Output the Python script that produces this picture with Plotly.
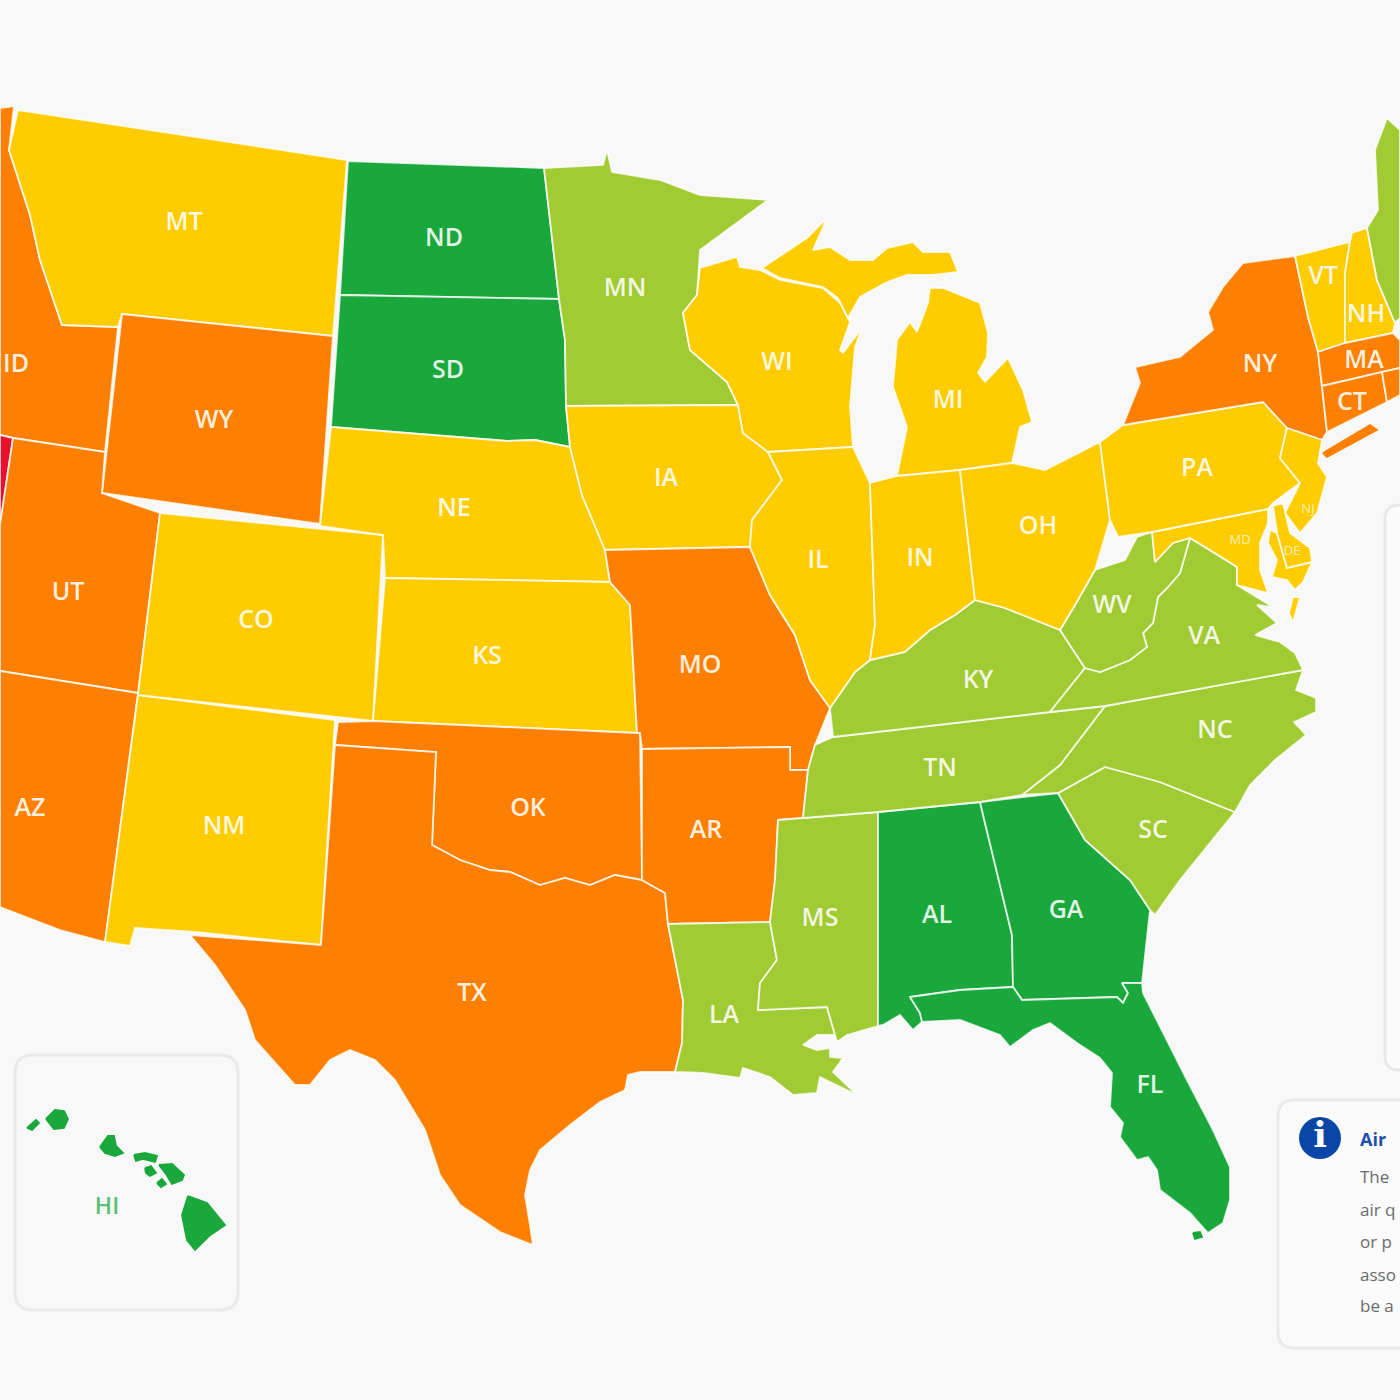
import plotly.graph_objects as go

# grade colours, best to worst
colors = ['#1aa83c', '#a0cb32', '#ffcc00', '#ff8000', '#e8112d']
bg = '#f8f8f8'

# outlines
ID = [(0,108),(14,106),(9,150),(30,215),(40,260),(62,325),(118,327),(105,452),(13,438),(0,435)]
NV = [(0,435),(13,438),(0,525)]
MT = [(18,110),(347,160),(333,336),(122,314),(118,327),(62,325),(40,260),(30,215),(9,150)]
WY = [(122,314),(333,336),(320,524),(102,493)]
UT = [(13,438),(105,452),(102,493),(160,513),(138,693),(0,671),(0,525)]
AZ = [(0,671),(138,693),(105,942),(60,930),(0,907)]
NM = [(138,695),(335,720),(321,945),(195,932),(135,928),(130,946),(105,942)]
CO = [(160,513),(383,535),(373,721),(138,695)]
ND = [(348,161),(544,168),(559,299),(340,295)]
SD = [(340,295),(559,299),(565,340),(566,406),(570,447),(535,440),(507,441),(331,427)]
NE = [(331,427),(507,441),(535,440),(570,447),(582,495),(605,550),(610,582),(385,578),(383,535),(320,526)]
KS = [(385,578),(610,582),(630,605),(637,733),(373,721)]
OK = [(338,722),(373,721),(637,733),(640,733),(642,880),(615,875),(590,885),(565,878),(540,885),(510,872),(490,870),(460,860),(432,845),(436,752),(335,745)]
TX = [(335,745),(436,752),(432,845),(460,860),(490,870),(510,872),(540,885),(565,878),(590,885),(615,875),(642,880),(665,893),(668,924),(683,1000),(682,1043),(675,1072),(640,1072),(628,1075),(625,1090),(600,1102),(570,1125),(540,1150),(530,1170),(525,1195),(530,1225),(533,1245),(500,1232),(460,1205),(440,1175),(425,1130),(410,1105),(395,1080),(375,1060),(350,1050),(330,1060),(310,1085),(295,1085),(275,1062),(255,1040),(245,1010),(215,965),(190,935),(321,945)]
MN = [(544,168),(603,165),(607,150),(612,172),(660,180),(700,195),(768,200),(700,250),(697,295),(683,313),(690,350),(727,382),(738,405),(566,406),(565,340),(559,299)]
IA = [(566,406),(738,405),(743,433),(768,452),(782,480),(752,520),(750,547),(605,550),(582,495),(570,447)]
MO = [(605,550),(750,547),(770,595),(795,635),(810,680),(830,708),(815,745),(808,770),(790,770),(790,747),(642,749),(640,733),(637,733),(630,605),(610,582)]
AR = [(642,749),(790,747),(790,770),(808,770),(803,818),(778,820),(775,880),(770,922),(668,924),(665,893),(642,880)]
LA = [(668,924),(770,922),(777,960),(760,983),(758,1010),(827,1007),(835,1035),(817,1035),(803,1045),(817,1050),(830,1048),(830,1057),(843,1058),(833,1072),(857,1095),(820,1077),(817,1093),(793,1095),(770,1077),(743,1068),(740,1078),(703,1073),(675,1072),(682,1043),(683,1000)]
MS = [(778,820),(878,812),(878,1026),(847,1035),(837,1042),(835,1035),(827,1007),(758,1010),(760,983),(777,960),(770,922),(775,880)]
AL = [(878,812),(980,802),(1012,935),(1013,987),(960,990),(910,997),(920,1013),(922,1022),(913,1030),(900,1015),(883,1025),(878,1026)]
GA = [(980,802),(1058,793),(1085,840),(1130,880),(1150,910),(1142,983),(1122,983),(1128,993),(1123,1003),(1117,997),(1022,1000),(1013,987),(1012,935)]
FL = [(910,997),(960,990),(1013,987),(1022,1000),(1117,997),(1123,1003),(1128,993),(1122,983),(1142,983),(1143,993),(1187,1080),(1213,1130),(1230,1167),(1230,1200),(1223,1223),(1208,1233),(1190,1213),(1160,1190),(1157,1170),(1148,1157),(1137,1160),(1120,1137),(1123,1123),(1110,1107),(1112,1073),(1100,1058),(1077,1043),(1050,1023),(1033,1030),(1010,1047),(1000,1035),(960,1020),(922,1022),(920,1013)]
SC = [(1058,793),(1105,767),(1160,782),(1235,812),(1180,880),(1155,915),(1150,910),(1130,880),(1085,840)]
NC = [(1022,795),(1060,765),(1105,706),(1303,670),(1296,690),(1316,698),(1316,712),(1294,722),(1306,735),(1275,760),(1250,785),(1235,812),(1160,782),(1105,767),(1058,793)]
TN = [(833,737),(1105,706),(1060,765),(1022,795),(980,802),(878,812),(803,818),(808,770),(815,745)]
KY = [(833,737),(830,708),(855,672),(870,660),(905,652),(930,630),(955,615),(975,600),(1005,608),(1035,620),(1060,630),(1085,668),(1050,712)]
VA = [(1190,538),(1210,550),(1237,567),(1237,585),(1273,607),(1257,605),(1277,623),(1255,635),(1280,642),(1295,653),(1303,670),(1105,706),(1050,712),(1085,668),(1100,672),(1130,660),(1147,647),(1143,633),(1153,623),(1158,597),(1168,587),(1180,573)]
WV = [(1137,537),(1152,532),(1155,562),(1173,543),(1190,538),(1180,573),(1168,587),(1158,597),(1153,623),(1143,633),(1147,647),(1130,660),(1100,672),(1085,668),(1060,630),(1075,605),(1095,570),(1125,560)]
MD = [(1152,532),(1268,509),(1268,523),(1260,543),(1260,570),(1268,593),(1237,585),(1237,567),(1210,550),(1190,538),(1173,543),(1155,562)]
MD_SHORE = [(1270,530),(1277,533),(1287,568),(1312,562),(1303,582),(1295,590),(1287,580),(1272,577),(1277,560),(1268,543)]
VA_SHORE = [(1300,597),(1293,622),(1289,613),(1293,597)]
DE = [(1273,506),(1283,503),(1290,533),(1310,548),(1312,562),(1287,568),(1277,533)]
WI = [(700,268),(737,257),(740,267),(760,270),(780,280),(823,288),(840,303),(850,322),(840,350),(843,353),(862,328),(855,347),(850,407),(853,447),(768,452),(743,433),(738,405),(727,382),(690,350),(683,313),(697,295)]
MI_UP = [(762,268),(807,238),(827,218),(813,250),(830,247),(850,260),(873,260),(887,248),(913,242),(923,252),(950,252),(958,272),(933,275),(907,275),(887,282),(860,297),(848,318),(838,298),(823,287),(780,278)]
MI_LP = [(930,288),(943,288),(980,303),(988,333),(987,357),(978,373),(985,382),(1008,358),(1023,390),(1032,422),(1020,427),(1012,463),(960,470),(897,476),(907,427),(893,387),(897,340),(910,322),(917,332),(928,303)]
IL = [(768,452),(853,447),(870,483),(875,625),(870,660),(855,672),(830,708),(810,680),(795,635),(770,595),(750,547),(752,520),(782,480)]
IN = [(870,483),(897,476),(960,470),(975,600),(955,615),(930,630),(905,652),(870,660),(875,625)]
OH = [(960,470),(1012,463),(1045,470),(1100,442),(1110,520),(1095,570),(1075,605),(1060,630),(1035,620),(1005,608),(975,600)]
PA = [(1100,442),(1123,425),(1263,402),(1287,428),(1280,458),(1300,483),(1273,503),(1268,509),(1152,532),(1118,537),(1110,520)]
NY = [(1123,425),(1140,383),(1135,367),(1180,357),(1213,330),(1208,312),(1223,287),(1243,263),(1295,256),(1308,317),(1318,352),(1322,386),(1327,432),(1322,440),(1287,428),(1263,402)]
LONG_ISLAND = [(1323,453),(1370,425),(1377,430),(1327,457)]
NJ = [(1287,428),(1322,440),(1318,463),(1327,477),(1317,513),(1300,533),(1285,513),(1300,483),(1280,458)]
VT = [(1295,256),(1350,242),(1345,273),(1345,343),(1318,352),(1308,317)]
NH = [(1350,242),(1352,233),(1367,228),(1377,280),(1395,323),(1393,333),(1345,343),(1345,273)]
ME = [(1400,130),(1387,118),(1375,150),(1378,210),(1367,228),(1377,280),(1395,323),(1400,318)]
MA = [(1318,352),(1345,343),(1393,333),(1400,340),(1400,368),(1382,372),(1322,386)]
CT = [(1322,386),(1382,372),(1387,402),(1327,432)]
RI = [(1382,372),(1400,368),(1400,395),(1387,402)]
HI_NIIHAU = [(27,1128),(36,1120),(39,1123),(32,1130)]
HI_KAUAI = [(46,1119),(55,1110),(64,1111),(68,1119),(64,1128),(54,1129)]
HI_OAHU = [(100,1147),(108,1136),(114,1136),(116,1146),(123,1153),(115,1156),(105,1153)]
HI_MOLOKAI = [(134,1155),(145,1153),(157,1156),(155,1162),(143,1159),(136,1161)]
HI_LANAI = [(145,1168),(151,1166),(156,1173),(150,1176),(146,1173)]
HI_MAUI = [(159,1165),(172,1164),(184,1175),(182,1180),(172,1184),(166,1174)]
HI_KAHOOLAWE = [(157,1183),(162,1179),(166,1184),(161,1187)]
HI_BIG = [(188,1196),(207,1203),(225,1225),(209,1236),(195,1250),(187,1240),(182,1215)]
FL_KEY = [(1193,1233),(1200,1232),(1202,1237),(1195,1239)]

regions = [ID, NV, MT, WY, UT, AZ, NM, CO, ND, SD, NE, KS, OK, TX, MN, IA, MO, AR, LA, MS, AL, GA, FL, SC, NC, TN, KY, VA, WV,
           MD, MD_SHORE, VA_SHORE, DE, WI, MI_UP, MI_LP, IL, IN, OH, PA, NY, LONG_ISLAND, NJ, VT, NH, ME, MA, CT, RI,
           HI_NIIHAU, HI_KAUAI, HI_OAHU, HI_MOLOKAI, HI_LANAI, HI_MAUI, HI_KAHOOLAWE, HI_BIG, FL_KEY]
grades = [3, 4, 2, 3, 3, 3, 2, 2, 0, 0, 2, 2, 3, 3, 1, 2, 3, 3, 1, 1, 0, 0, 0, 1, 1, 1, 1, 1, 1,
          2, 2, 2, 2, 2, 2, 2, 2, 2, 2, 2, 3, 3, 2, 2, 2, 1, 3, 3, 3,
          0, 0, 0, 0, 0, 0, 0, 0, 0]
islands = [HI_NIIHAU, HI_KAUAI, HI_OAHU, HI_MOLOKAI, HI_LANAI, HI_MAUI, HI_KAHOOLAWE, HI_BIG, FL_KEY, LONG_ISLAND]

label_names = ['MT','ND','MN','SD','WY','ID','WI','MI','NY','VT','NH','MA','CT','PA','IA','NE','OH','IL','IN','UT','CO','KS','MO','WV','VA','KY','NC','TN','AR','OK','NM','AZ','SC','MS','AL','GA','LA','TX','FL']
label_x = [184,444,625,448,214,16,777,948,1260,1323,1366,1364,1352,1197,666,454,1038,818,920,68,256,487,700,1112,1204,978,1215,940,706,528,224,30,1153,820,937,1066,724,472,1150]
label_y = [224,240,290,372,422,366,364,402,366,278,316,362,404,470,480,510,528,562,560,594,622,658,667,607,638,682,732,770,832,810,828,810,832,920,917,912,1017,995,1087]
small_names = ['MD','NJ','DE']
small_x = [1240,1308,1292]
small_y = [541,510,552]

panel_lines = ['The', 'air q', 'or p', 'asso', 'be a']
panel_line_y = [1179, 1212, 1244, 1277, 1308]


def rounded(x0, y0, x1, y1, r):
    return (f'M{x0+r},{y0} L{x1-r},{y0} Q{x1},{y0} {x1},{y0+r} L{x1},{y1-r} Q{x1},{y1} {x1-r},{y1} '
            f'L{x0+r},{y1} Q{x0},{y1} {x0},{y1-r} L{x0},{y0+r} Q{x0},{y0} {x0+r},{y0} Z')


fig = go.Figure()
for pts, g in zip(regions, grades):
    xs = [p[0] for p in pts] + [pts[0][0]]
    ys = [p[1] for p in pts] + [pts[0][1]]
    edge = colors[g] if pts in islands else 'rgba(255,255,255,0.8)'
    fig.add_trace(go.Scatter(x=xs, y=ys, mode='lines', fill='toself', fillcolor=colors[g],
                             line=dict(color=edge, width=1.8), hoverinfo='skip', showlegend=False))

fig.add_trace(go.Scatter(x=label_x, y=label_y, text=label_names, mode='text', showlegend=False, hoverinfo='skip',
                         textfont=dict(family='Open Sans', size=25, weight=600, color='rgba(255,255,255,0.88)')))
fig.add_trace(go.Scatter(x=small_x, y=small_y, text=small_names, mode='text', showlegend=False, hoverinfo='skip',
                         textfont=dict(family='Open Sans', size=13, color='rgba(255,255,255,0.7)')))
fig.add_trace(go.Scatter(x=[107], y=[1208], text=['HI'], mode='text', showlegend=False, hoverinfo='skip',
                         textfont=dict(family='Open Sans', size=23, weight=600, color='#5cbd76')))
fig.add_trace(go.Scatter(x=[1320], y=[1138], text=['i'], mode='text', showlegend=False, hoverinfo='skip',
                         textfont=dict(family='DejaVu Serif', size=36, weight=700, color='white')))
fig.add_trace(go.Scatter(x=[1360], y=[1141], text=['Air'], mode='text', textposition='middle right', showlegend=False,
                         hoverinfo='skip', textfont=dict(family='Open Sans', size=18, weight=700, color='#1c4fae')))
fig.add_trace(go.Scatter(x=[1360]*len(panel_lines), y=panel_line_y, text=panel_lines, mode='text', textposition='middle right',
                         showlegend=False, hoverinfo='skip', textfont=dict(family='Open Sans', size=17, color='#6a6a6a')))

panel_line = dict(color='#e9e9e9', width=3)
fig.update_layout(
    width=1400, height=1400, margin=dict(l=0, r=0, t=0, b=0), paper_bgcolor=bg, plot_bgcolor=bg, showlegend=False,
    shapes=[
        dict(type='path', path=rounded(15, 1055, 238, 1310, 18), line=panel_line, fillcolor=bg, layer='below'),
        dict(type='path', path=rounded(1385, 505, 1460, 1070, 14), line=panel_line, fillcolor='#fbfbfb', layer='below'),
        dict(type='path', path=rounded(1278, 1100, 1460, 1348, 16), line=panel_line, fillcolor='#fbfbfb', layer='below'),
        dict(type='circle', x0=1299, y0=1117, x1=1341, y1=1159, fillcolor='#0a46a8', line=dict(width=0), layer='below'),
    ],
)
fig.update_xaxes(range=[0, 1400], visible=False)
fig.update_yaxes(range=[1400, 0], visible=False)
# page margin would otherwise shift and clip the picture
fig.write_html("out.html", config={'displayModeBar': False}, post_script="document.body.style.margin='0'")
